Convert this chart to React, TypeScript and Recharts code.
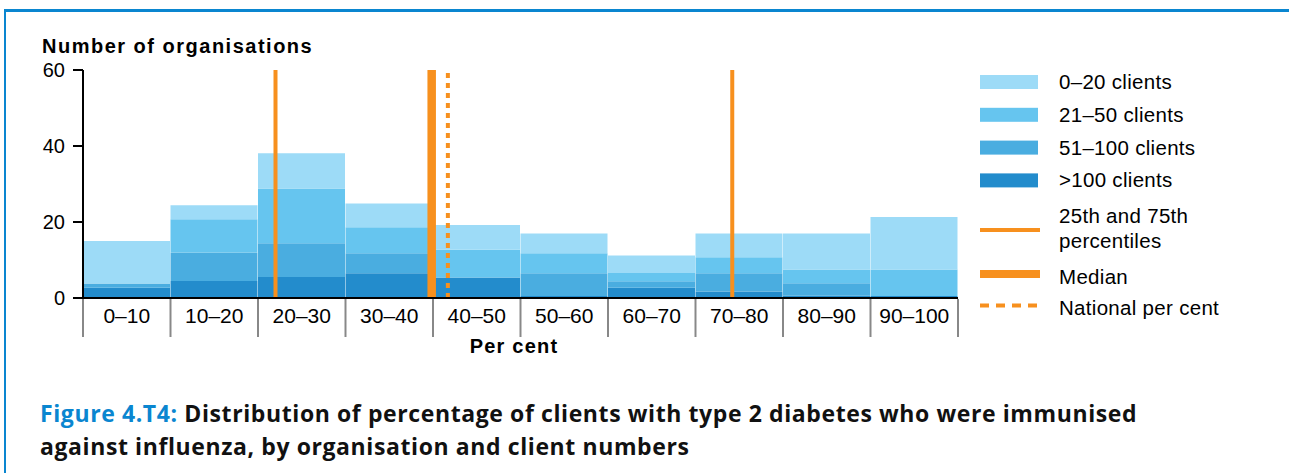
import { ComposedChart, Bar, XAxis, YAxis, ReferenceLine, Label } from "recharts"

const categories = ["0–10", "10–20", "20–30", "30–40", "40–50", "50–60", "60–70", "70–80", "80–90", "90–100"]
const binMid = [5, 15, 25, 35, 45, 55, 65, 75, 85, 95]
const over100 = [2.7, 4.5, 5.5, 6.5, 5.4, 0.5, 2.7, 1.7, 0.6, 0.5]
const clients51to100 = [1.1, 7.5, 8.9, 5.3, 0, 6, 1.7, 4.8, 3.3, 0]
const clients21to50 = [0, 8.7, 14.4, 6.8, 7.3, 5.3, 2.2, 4.2, 3.6, 7]
const clients0to20 = [11.2, 3.7, 9.3, 6.3, 6.5, 5.2, 4.6, 6.3, 9.5, 13.8]

const percentile25 = 22
const percentile75 = 74.2
const median = 39.85
const nationalPerCent = 41.7

const yTicks = [0, 20, 40, 60]

const data = categories.map((name, i) => ({
  name,
  mid: binMid[i],
  over100: over100[i],
  c51: clients51to100[i],
  c21: clients21to50[i],
  c0: clients0to20[i],
}))

const FONT = "'Liberation Sans', Arial, sans-serif"
const ORANGE = "#f7901e"
const BLUE = "#0a86d0"
const COLORS = { c0: "#9ddbf7", c21: "#66c5ef", c51: "#4aade0", over100: "#238ccc" }

const PLOT_LEFT = 83
const PLOT_RIGHT = 958
const PLOT_TOP = 70
const PLOT_BOTTOM = 298
const CHART_W = 1289
const CHART_H = 380
const BAND = (PLOT_RIGHT - PLOT_LEFT) / categories.length

function CategoryTick(props: any) {
  const { x, index } = props
  return (
    <g>
      <line x1={x - BAND / 2} x2={x - BAND / 2} y1={PLOT_BOTTOM + 1} y2={PLOT_BOTTOM + 39} stroke="#888" strokeWidth={2} />
      {index === categories.length - 1 && (
        <line x1={x + BAND / 2} x2={x + BAND / 2} y1={PLOT_BOTTOM + 1} y2={PLOT_BOTTOM + 39} stroke="#888" strokeWidth={2} />
      )}
      <text x={x} y={PLOT_BOTTOM + 25} textAnchor="middle" fontSize={21} fontFamily={FONT} fill="#000">
        {categories[index]}
      </text>
    </g>
  )
}

const legendBars = [
  { label: "0–20 clients", color: COLORS.c0 },
  { label: "21–50 clients", color: COLORS.c21 },
  { label: "51–100 clients", color: COLORS.c51 },
  { label: ">100 clients", color: COLORS.over100 },
]

function ChartLegend() {
  return (
    <svg width={320} height={260} style={{ position: "absolute", left: 960, top: 60 }} fontFamily={FONT} fontSize={20.5} letterSpacing={0.3}>
      {legendBars.map((b, i) => (
        <g key={b.label}>
          <rect x={20} y={15 + i * 32.8} width={58} height={14} fill={b.color} />
          <text x={99} y={29 + i * 32.8} fill="#000">{b.label}</text>
        </g>
      ))}
      <line x1={20} x2={80} y1={170} y2={170} stroke={ORANGE} strokeWidth={4} />
      <text x={99} y={163} fill="#000">25th and 75th</text>
      <text x={99} y={188} fill="#000">percentiles</text>
      <line x1={20} x2={80} y1={214} y2={214} stroke={ORANGE} strokeWidth={8} />
      <text x={99} y={224} fill="#000">Median</text>
      <line x1={20} x2={80} y1={245.5} y2={245.5} stroke={ORANGE} strokeWidth={4} strokeDasharray="9 7" />
      <text x={99} y={255} fill="#000">National per cent</text>
    </svg>
  )
}

export default function App() {
  return (
    <div style={{ position: "absolute", left: 0, top: 0, width: 1289, height: 473, background: "#fff", overflow: "hidden" }}>
      <div
        style={{
          position: "absolute",
          left: 4,
          top: 9,
          width: 1300,
          height: 500,
          borderTop: `3px solid ${BLUE}`,
          borderLeft: `2.5px solid ${BLUE}`,
        }}
      />
      <div style={{ position: "absolute", left: 0, top: 0 }}>
        <ComposedChart
          width={CHART_W}
          height={CHART_H}
          data={data}
          barCategoryGap={0}
          barGap={0}
          margin={{ top: PLOT_TOP, right: CHART_W - PLOT_RIGHT, bottom: CHART_H - PLOT_BOTTOM - 60, left: PLOT_LEFT - 60 }}
        >
          <XAxis
            dataKey="mid"
            type="number"
            domain={[0, 100]}
            ticks={binMid}
            interval={0}
            height={60}
            axisLine={{ stroke: "#000", strokeWidth: 2 }}
            tickLine={false}
            tick={<CategoryTick />}
          >
            <Label
              content={() => (
                <text x={514} y={353} textAnchor="middle" fontFamily={FONT} fontSize={20} fontWeight="bold" letterSpacing={1.2} fill="#000">
                  Per cent
                </text>
              )}
            />
          </XAxis>
          <YAxis
            width={60}
            domain={[0, 60]}
            ticks={yTicks}
            interval={0}
            tickSize={10}
            tickMargin={8}
            axisLine={{ stroke: "#000", strokeWidth: 2 }}
            tickLine={{ stroke: "#000", strokeWidth: 2 }}
            tick={{ fill: "#000", fontSize: 20, fontFamily: FONT }}
          >
            <Label
              content={() => (
                <text x={42} y={53} fontFamily={FONT} fontSize={20} fontWeight="bold" letterSpacing={1.5} fill="#000">
                  Number of organisations
                </text>
              )}
            />
          </YAxis>
          <Bar dataKey="over100" stackId="a" fill={COLORS.over100} isAnimationActive={false} />
          <Bar dataKey="c51" stackId="a" fill={COLORS.c51} isAnimationActive={false} />
          <Bar dataKey="c21" stackId="a" fill={COLORS.c21} isAnimationActive={false} />
          <Bar dataKey="c0" stackId="a" fill={COLORS.c0} isAnimationActive={false} />
          <ReferenceLine x={percentile25} stroke={ORANGE} strokeWidth={4} />
          <ReferenceLine x={percentile75} stroke={ORANGE} strokeWidth={4} />
          <ReferenceLine x={median} stroke={ORANGE} strokeWidth={8.5} />
          <ReferenceLine x={nationalPerCent} stroke={ORANGE} strokeWidth={4} strokeDasharray="5 5" />
        </ComposedChart>
      </div>
      <ChartLegend />
      <div
        style={{
          position: "absolute",
          left: 40,
          top: 397,
          fontFamily: "'Open Sans', sans-serif",
          fontWeight: 700,
          fontSize: 23,
          letterSpacing: 0.6,
          lineHeight: "33px",
          color: "#111",
          whiteSpace: "nowrap",
        }}
      >
        <span style={{ color: BLUE }}>Figure 4.T4:</span> Distribution of percentage of clients with type 2 diabetes who were immunised
        <br />
        against influenza, by organisation and client numbers
      </div>
    </div>
  )
}
